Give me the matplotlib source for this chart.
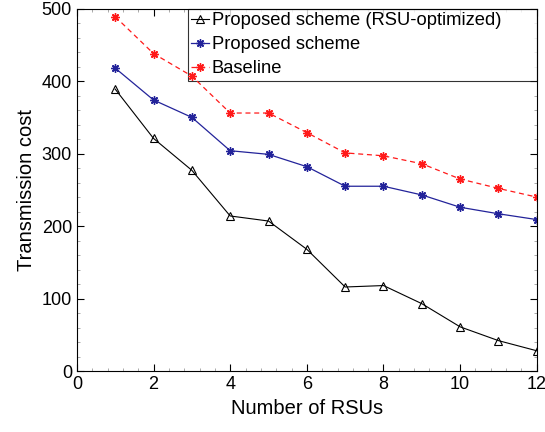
import numpy as np
import matplotlib.pyplot as plt
from matplotlib.ticker import MultipleLocator

plt.rcParams['font.family'] = ['Liberation Sans', 'DejaVu Sans']

# number of RSUs and transmission cost of each scheme
n_rsu = [1, 2, 3, 4, 5, 6, 7, 8, 9, 10, 11, 12]
cost_rsu_opt = [389, 321, 277, 214, 207, 168, 116, 118, 93, 61, 42, 28]
cost_proposed = [418, 374, 350, 304, 299, 282, 255, 255, 243, 226, 217, 209]
cost_baseline = [489, 438, 407, 356, 356, 329, 301, 297, 286, 265, 252, 240]

fig = plt.figure(figsize=(5.45, 4.32), dpi=100)
ax = fig.add_axes([0.141, 0.141, 0.844, 0.839])

star = (8, 2, 0)  # asterisk marker
ax.plot(n_rsu, cost_rsu_opt, color='black', lw=0.8, marker='^', ms=6,
        mfc='none', mec='black', mew=0.8, label='Proposed scheme (RSU-optimized)')
ax.plot(n_rsu, cost_proposed, color='#23239a', lw=0.9, marker=star, ms=6,
        mew=1.0, label='Proposed scheme')
ax.plot(n_rsu, cost_baseline, color='#ff1a1a', lw=0.9, ls=(0, (4, 3)), marker=star,
        ms=6, mew=1.0, label='Baseline')

ax.set_xlim(0, 12)
ax.set_ylim(0, 500)
ax.xaxis.set_major_locator(MultipleLocator(2))
ax.xaxis.set_minor_locator(MultipleLocator(0.4))
ax.yaxis.set_major_locator(MultipleLocator(100))
ax.yaxis.set_minor_locator(MultipleLocator(20))
ax.tick_params(which='both', direction='in', top=True, right=True, labelsize=13)
ax.tick_params(which='major', length=5, width=0.8)
ax.tick_params(which='minor', length=2.5, width=0.5, colors='#888888')
for s in ax.spines.values():
    s.set_linewidth(0.8)

ax.set_xlabel('Number of RSUs', fontsize=14.5)
ax.set_ylabel('Transmission cost', fontsize=14.5)

# legend box stretched to the right edge of the axes
leg = ax.legend(loc='upper left', bbox_to_anchor=(0.241, 0.0, 0.759, 1.0),
                mode='expand', fontsize=13.2, frameon=True, fancybox=False,
                edgecolor='black', borderaxespad=0, handlelength=0.95,
                handletextpad=0.15, borderpad=0.2, labelspacing=0.38)
leg.get_frame().set_linewidth(0.8)
leg.set_zorder(1.5)  # data lines stay visible over the legend corner

fig.savefig('out.png', dpi=100)
